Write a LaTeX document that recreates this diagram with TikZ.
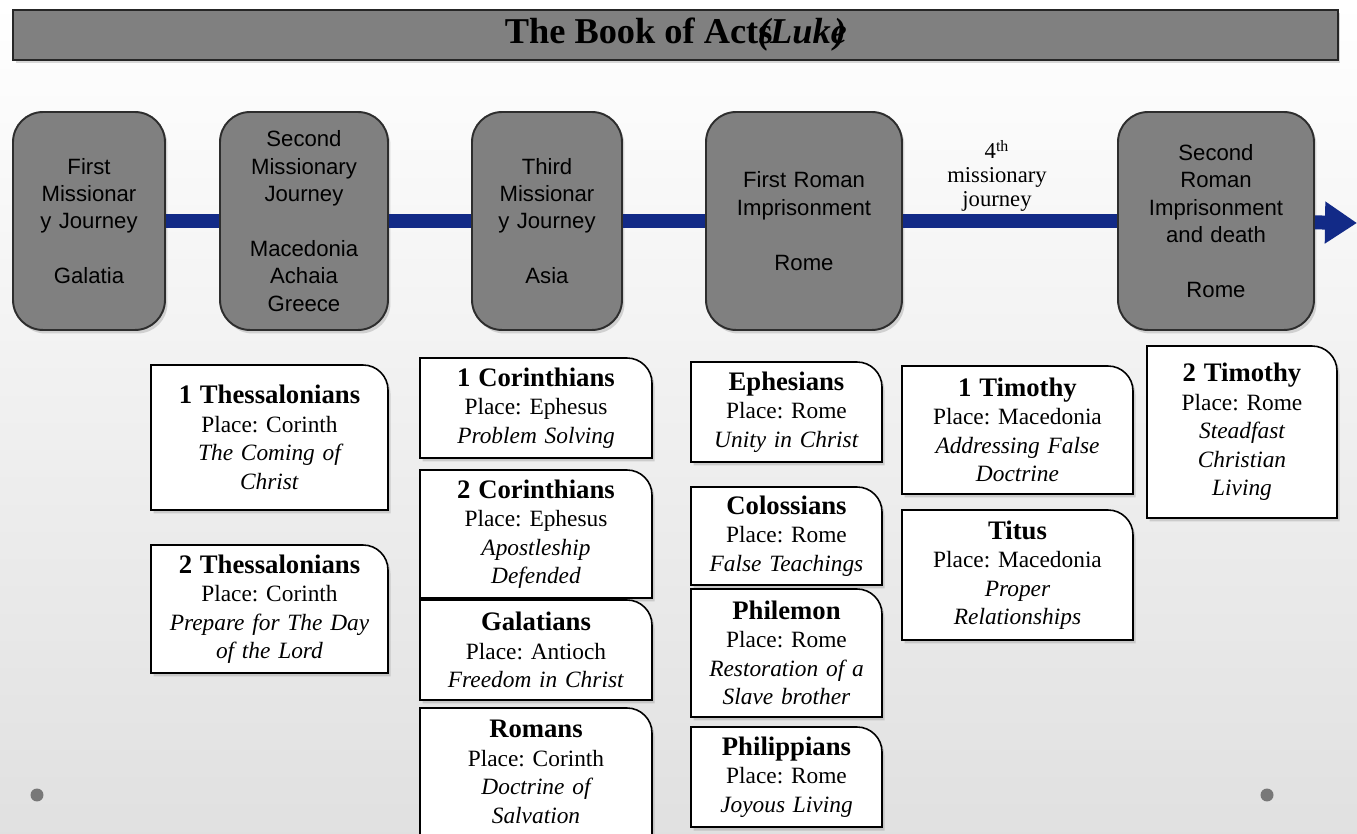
\documentclass[tikz,border=0pt]{standalone}
\usepackage{fontspec}
\setmainfont{Liberation Serif}
\setsansfont{Liberation Sans}
\usetikzlibrary{shadows,arrows.meta}

\definecolor{journeyblue}{RGB}{18,42,135}
\definecolor{boxgray}{RGB}{128,128,128}
\definecolor{edgegray}{RGB}{45,45,45}
\definecolor{dotgray}{RGB}{120,120,120}

\newcommand{\epistle}[8]{%
\draw [cardframe] (#2,#5) -- (#2,#3) -- ([xshift=-0.5cm]#4,#3)
  arc [start angle=90, end angle=0, radius=0.5cm] -- (#4,#5) -- cycle ;
\node [cardtext] (#1) at ({(#2+#4)/2},{(#3+#5)/2})
  {{\fontsize{15.2}{16.2}\selectfont\bfseries #6}\\#7\\\textit{#8}} ;
}

\begin{document}
\begin{tikzpicture}[x=0.02cm, y=-0.02cm,
  softshadow/.style={drop shadow={opacity=0.3, shadow xshift=0.05cm, shadow yshift=-0.07cm}},
  stage/.style={rectangle, rounded corners=0.6cm, fill=boxgray, draw=edgegray,
    line width=1.1pt, minimum height=4.36cm, text width=#1, inner sep=0pt,
    align=center, font=\sffamily\fontsize{12.6}{15.6}\selectfont, softshadow},
  journey/.style={draw=journeyblue, line width=0.28cm},
  cardframe/.style={draw=black, line width=0.9pt, fill=white, softshadow},
  cardtext/.style={text width=4.4cm, inner sep=0pt, align=center,
    font=\frenchspacing\fontsize{13.3}{16.2}\selectfont},
  titlebar/.style={rectangle, fill=boxgray, draw=black!85, line width=1.5pt,
    minimum width=26.5cm, minimum height=1cm, inner sep=0pt,
    font=\bfseries\fontsize{20.7}{24}\selectfont, softshadow},
  note/.style={align=center, inner sep=0pt, font=\fontsize{12.9}{13.6}\selectfont},
  dot/.style={circle, fill=dotgray, minimum size=0.26cm, inner sep=0pt}]

\useasboundingbox (0,0) rectangle (1357,834) ;
\shade [top color=white, bottom color=black!12] (0,0) rectangle (1357,834) ;

\node [titlebar] (title) at (675.5,35) {The Book of Acts\kern-0.4em\textit{(Luke\kern-0.35em)}} ;

\node [stage=3.04cm] (j1) at (89,221) {First\\Missionar\\y Journey\\[15.6pt]Galatia} ;
\node [stage=3.36cm] (j2) at (304,221) {Second\\Missionary\\Journey\\[15.6pt]Macedonia\\Achaia\\Greece} ;
\node [stage=3.0cm] (j3) at (547,221) {Third\\Missionar\\y Journey\\[15.6pt]Asia} ;
\node [stage=3.92cm] (j4) at (804,221) {First Roman\\Imprisonment\\[15.6pt]Rome} ;
\node [stage=3.92cm] (j5) at (1216,221) {Second\\Roman\\Imprisonment\\and death\\[15.6pt]Rome} ;
\coordinate (arrowend) at (1357,223) ;

\draw [journey] (j1) -- (j2) ;
\draw [journey] (j2) -- (j3) ;
\draw [journey] (j3) -- (j4) ;
\draw [journey] (j4) -- (j5) ;
\draw [journey, -{Triangle[length=0.64cm, width=0.8cm]}] (j5) -- (arrowend) ;

\node [note] (fourth) at (997,176) {4\textsuperscript{th}\\missionary\\journey} ;

\epistle{thessA}{151}{365}{388}{510}{1 Thessalonians}{Place: Corinth}{The Coming of\\Christ}
\epistle{thessB}{151}{545}{388}{673}{2 Thessalonians}{Place: Corinth}{Prepare for The Day\\of the Lord}

\epistle{corA}{420}{358}{652}{458}{1 Corinthians}{Place: Ephesus}{Problem Solving}
\epistle{corB}{420}{470}{652}{598}{2 Corinthians}{Place: Ephesus}{Apostleship\\Defended}
\epistle{galatians}{420}{600}{652}{700}{Galatians}{Place: Antioch}{Freedom in Christ}
\epistle{romans}{420}{708}{652}{836}{Romans}{Place: Corinth}{Doctrine of\\Salvation}

\epistle{ephesians}{691}{362}{882}{462}{Ephesians}{Place: Rome}{Unity in Christ}
\epistle{colossians}{691}{487}{882}{585}{Colossians}{Place: Rome}{False Teachings}
\epistle{philemon}{691}{589}{882}{717}{Philemon}{Place: Rome}{Restoration of a\\Slave brother}
\epistle{philippians}{691}{727}{882}{827}{Philippians}{Place: Rome}{Joyous Living}

\epistle{timothyA}{902}{366}{1133}{494}{1 Timothy}{Place: Macedonia}{Addressing False\\Doctrine}
\epistle{titus}{902}{510}{1133}{640}{Titus}{Place: Macedonia}{Proper\\Relationships}

\epistle{timothyB}{1147}{346}{1337}{518}{2 Timothy}{Place: Rome}{Steadfast\\Christian\\Living}

\node [dot] (dotL) at (37,795) {} ;
\node [dot] (dotR) at (1267,795) {} ;

\end{tikzpicture}
\end{document}
